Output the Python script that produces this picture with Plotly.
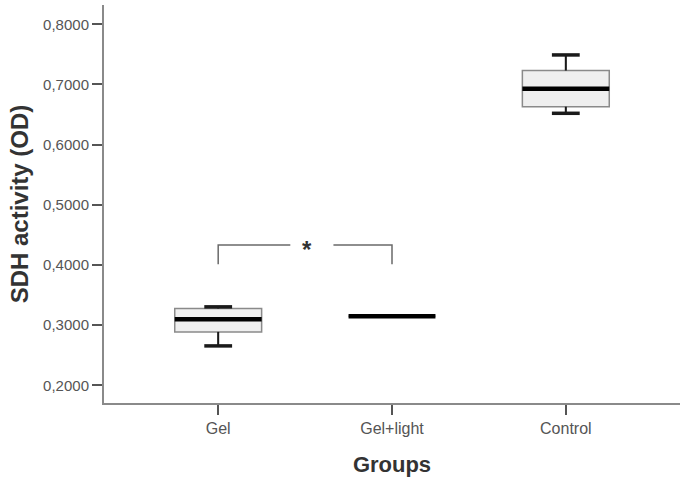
import plotly.graph_objects as go

categories = ["Gel", "Gel+light", "Control"]
lower = [0.2654, 0.3148, 0.6520]
q1 = [0.2887, 0.3148, 0.6630]
median = [0.3098, 0.3148, 0.6930]
q3 = [0.3276, 0.3148, 0.7230]
upper = [0.3303, 0.3148, 0.7490]
yticks = [0.2, 0.3, 0.4, 0.5, 0.6, 0.7, 0.8]

xpos = list(range(len(categories)))
box_half = 0.25
cap_half = 0.08

fig = go.Figure()
for i in xpos:
    fig.add_trace(go.Box(
        x=[i], q1=[q1[i]], median=[median[i]], q3=[q3[i]],
        lowerfence=[lower[i]], upperfence=[upper[i]],
        width=2 * box_half, whiskerwidth=0.0001,
        fillcolor="#efefef", line=dict(color="#8a8a8a", width=1.5),
        boxpoints=False, showlegend=False, hoverinfo="skip"))

# whiskers, caps, medians in black
for i in xpos:
    if upper[i] > q3[i]:
        fig.add_trace(go.Scatter(x=[i, i], y=[q3[i], upper[i]], mode="lines",
                                 line=dict(color="#1a1a1a", width=2), showlegend=False, hoverinfo="skip"))
        fig.add_trace(go.Scatter(x=[i - cap_half, i + cap_half], y=[upper[i], upper[i]], mode="lines",
                                 line=dict(color="#1a1a1a", width=3.5), showlegend=False, hoverinfo="skip"))
    if lower[i] < q1[i]:
        fig.add_trace(go.Scatter(x=[i, i], y=[q1[i], lower[i]], mode="lines",
                                 line=dict(color="#1a1a1a", width=2), showlegend=False, hoverinfo="skip"))
        fig.add_trace(go.Scatter(x=[i - cap_half, i + cap_half], y=[lower[i], lower[i]], mode="lines",
                                 line=dict(color="#1a1a1a", width=3.5), showlegend=False, hoverinfo="skip"))
    fig.add_trace(go.Scatter(x=[i - box_half, i + box_half], y=[median[i], median[i]], mode="lines",
                             line=dict(color="#000000", width=4.5), showlegend=False, hoverinfo="skip"))

# significance bracket
sig_top = 0.433
sig_bottom = 0.401
fig.add_trace(go.Scatter(x=[0, 0, 0.415], y=[sig_bottom, sig_top, sig_top], mode="lines",
                         line=dict(color="#6a6a6a", width=1.5), showlegend=False, hoverinfo="skip"))
fig.add_trace(go.Scatter(x=[0.663, 1, 1], y=[sig_top, sig_top, sig_bottom], mode="lines",
                         line=dict(color="#6a6a6a", width=1.5), showlegend=False, hoverinfo="skip"))
fig.add_annotation(x=0.51, y=sig_top, text="<b>*</b>", showarrow=False,
                   font=dict(family="Liberation Sans, Arial", size=24, color="#333"), yshift=-4)

fig.update_layout(
    width=680, height=484,
    margin=dict(l=104, r=0, t=5, b=81),
    plot_bgcolor="white", paper_bgcolor="white",
    separators=",.",
    font=dict(family="Liberation Sans, Arial", color="#555"),
    xaxis=dict(
        range=[-0.657, 2.657], tickvals=xpos, ticktext=categories,
        showline=True, linecolor="#8a8a8a", linewidth=2,
        ticks="outside", ticklen=10, tickwidth=2, tickcolor="#555",
        showgrid=False, zeroline=False,
        tickfont=dict(size=16, color="#555"),
        title=dict(text="<b>Groups</b>", font=dict(size=22, color="#333"), standoff=20),
    ),
    yaxis=dict(
        range=[0.1705, 0.832], tickvals=yticks, tickformat=".4f",
        showline=True, linecolor="#8a8a8a", linewidth=2,
        ticks="outside", ticklen=10, tickwidth=2, tickcolor="#555",
        showgrid=False, zeroline=False,
        tickfont=dict(size=15, color="#555"),
        title=dict(text="<b>SDH activity (OD)</b>", font=dict(size=24, color="#333"), standoff=8),
    ),
)

fig.write_html("out.html")
